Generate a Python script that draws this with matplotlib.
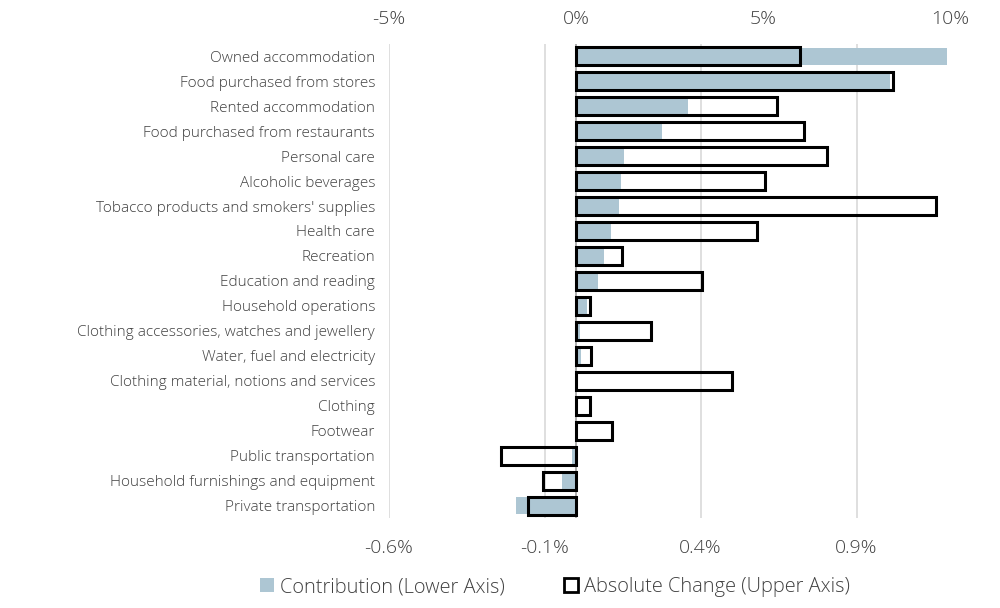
import matplotlib.pyplot as plt
from matplotlib.patches import Patch
from matplotlib.ticker import FuncFormatter
import numpy as np

# ── DATA ──────────────────────────────────────────────────────────────────────

categories = [
    "Owned accommodation",
    "Food purchased from stores",
    "Rented accommodation",
    "Food purchased from restaurants",
    "Personal care",
    "Alcoholic beverages",
    "Tobacco products and smokers' supplies",
    "Health care",
    "Recreation",
    "Education and reading",
    "Household operations",
    "Clothing accessories, watches and jewellery",
    "Water, fuel and electricity",
    "Clothing material, notions and services",
    "Clothing",
    "Footwear",
    "Public transportation",
    "Household furnishings and equipment",
    "Private transportation",
]

# contribution, percentage points (lower axis)
contribution = [1.19, 1.006, 0.358, 0.277, 0.155, 0.145, 0.139, 0.113, 0.090, 0.071,
                0.035, 0.013, 0.015, 0.006, 0.003, 0.002, -0.013, -0.045, -0.194]

# absolute change, % (upper axis)
abs_change = [5.99, 8.48, 5.37, 6.10, 6.71, 5.05, 9.63, 4.84, 1.23, 3.37,
              0.37, 2.00, 0.40, 4.17, 0.37, 0.96, -2.00, -0.88, -1.28]

lower_ticks = [-0.6, -0.1, 0.4, 0.9]
upper_ticks = [-5, 0, 5, 10]

# ── STYLE ─────────────────────────────────────────────────────────────────────

plt.rcParams["font.family"] = ["Open Sans", "DejaVu Sans"]
plt.rcParams["font.weight"] = 300
TEXT = "#404040"
BLUE = "#adc6d3"
GRID = "#d9d9d9"

fig = plt.figure(figsize=(10, 6.08), dpi=100)
ax = fig.add_axes([0.389, 0.148, 0.561, 0.78])
ax2 = ax.twiny()

y = np.arange(len(categories))

# contribution bars (lower axis)
ax.barh(y, contribution, height=0.68, color=BLUE, zorder=2)
ax.set_xlim(-0.6, 1.2)
ax.set_ylim(len(categories) - 0.5, -0.5)
ax.set_xticks(lower_ticks)
ax.xaxis.set_major_formatter(FuncFormatter(lambda v, p: f"{v:.1f}%"))
ax.set_yticks(y)
ax.set_yticklabels(categories)
ax.tick_params(axis="y", length=0, pad=10, labelsize=11.1, labelcolor=TEXT)
ax.tick_params(axis="x", length=0, pad=15, labelsize=14, labelcolor=TEXT)
ax.xaxis.grid(True, color=GRID, linewidth=1.2, zorder=0)
ax.set_axisbelow(True)
ax.axvline(0, color="#a0a0a0", linewidth=1.2, zorder=3)

# absolute change bars (upper axis), outline only
ax2.barh(y, abs_change, height=0.72, facecolor="none", edgecolor="black",
         linewidth=2.2, zorder=4)
ax2.set_xlim(-5, 10)
ax2.set_xticks(upper_ticks)
ax2.xaxis.set_major_formatter(FuncFormatter(lambda v, p: f"{v:.0f}%"))
ax2.tick_params(axis="x", length=0, pad=11, labelsize=14, labelcolor=TEXT)

for a in (ax, ax2):
    for s in a.spines.values():
        s.set_visible(False)

handles = [
    Patch(facecolor=BLUE, edgecolor="none", label="Contribution (Lower Axis)"),
    Patch(facecolor="white", edgecolor="black", linewidth=2, label="Absolute Change (Upper Axis)"),
]
fig.legend(handles=handles, loc="center", bbox_to_anchor=(0.555, 0.034), ncol=2,
           frameon=False, fontsize=14.4, labelcolor=TEXT, handlelength=0.7,
           handleheight=0.7, handletextpad=0.3, columnspacing=3.0)

fig.savefig("out.png", dpi=100)
